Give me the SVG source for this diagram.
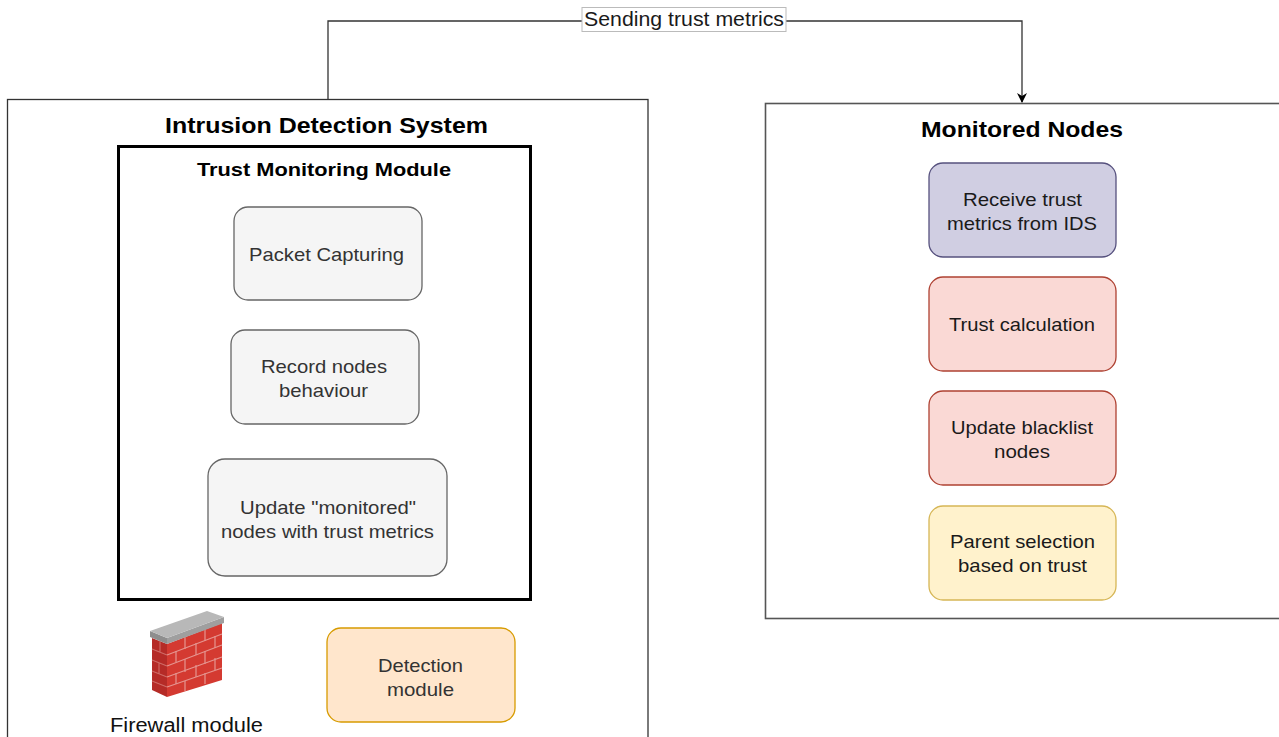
<svg xmlns="http://www.w3.org/2000/svg" width="1279" height="737" viewBox="0 0 1279 737">
<defs>
<style>
text{font-family:"Liberation Sans",Arial,sans-serif;text-anchor:middle}
.t{font-size:18.5px;fill:#333}
.d{font-size:18.5px;fill:#1a1a1a}
.tb{font-size:20px;fill:#111}
.h{font-size:22px;font-weight:bold;fill:#000}
.h2{font-size:19px;font-weight:bold;fill:#000}
.gray{fill:#f5f5f5;stroke:#666;stroke-width:1.3}
.purple{fill:#d0cee2;stroke:#56517e;stroke-width:1.3}
.red{fill:#fad9d5;stroke:#ae4132;stroke-width:1.3}
.yellow{fill:#fff2cc;stroke:#d6b656;stroke-width:1.3}
.orange{fill:#ffe6cc;stroke:#d79b00;stroke-width:1.3}
</style>
<marker id="arr" viewBox="0 0 10 10" refX="9" refY="5" markerWidth="10" markerHeight="10" markerUnits="userSpaceOnUse" orient="auto">
<path d="M0,0 L10,5 L0,10 L3,5 Z" fill="#000"/>
</marker>
</defs>

<g id="ids">
<rect x="7.5" y="99.5" width="640.5" height="700" fill="#fff" stroke="#333" stroke-width="1.3"/>
<text class="h" x="326.5" y="133" textLength="323" lengthAdjust="spacingAndGlyphs">Intrusion Detection System</text>
</g>

<g id="tmm">
<rect x="118.5" y="146.5" width="412" height="453" fill="#fff" stroke="#000" stroke-width="3"/>
<text class="h2" x="324" y="176" textLength="254" lengthAdjust="spacingAndGlyphs">Trust Monitoring Module</text>
</g>

<g id="packet">
<rect class="gray" x="234" y="207" width="188" height="93" rx="14"/>
<text class="t" x="326.5" y="261" textLength="155" lengthAdjust="spacingAndGlyphs">Packet Capturing</text>
</g>

<g id="record">
<rect class="gray" x="231" y="330" width="188" height="94" rx="14"/>
<text class="t" x="324" y="373" textLength="126" lengthAdjust="spacingAndGlyphs">Record nodes</text>
<text class="t" x="323.5" y="397" textLength="89" lengthAdjust="spacingAndGlyphs">behaviour</text>
</g>

<g id="update-monitored">
<rect class="gray" x="208" y="459" width="239" height="117" rx="17"/>
<text class="t" x="328" y="514" textLength="176" lengthAdjust="spacingAndGlyphs">Update "monitored"</text>
<text class="t" x="327.5" y="538" textLength="213" lengthAdjust="spacingAndGlyphs">nodes with trust metrics</text>
</g>

<g id="firewall">
<polygon points="152,638 167,644 167,697 152,690" fill="#b52b27"/>
<polygon points="167,644 222,623 222,680 167,697" fill="#d43a31"/>
<g fill="none" stroke="#e59590" stroke-width="1.2">
<path d="M167,655 L222,634 M167,666 L222,645 M167,677 L222,657 M167,687 L222,668"/>
<path d="M185,637 L185,649 M205,630 L205,641 M176,651 L176,662 M196,643 L196,655 M215,636 L215,648 M185,659 L185,672 M205,651 L205,664 M176,673 L176,684 M196,665 L196,677 M215,658 L215,670 M185,681 L185,691 M205,673 L205,684"/>
</g>
<g fill="none" stroke="#cf6b66" stroke-width="1.1">
<path d="M152,649 L167,655 M152,660 L167,666 M152,671 L167,677 M152,681 L167,687 M160,641 L160,652 M159,663 L159,674"/>
</g>
<polygon points="150,631 167,638 167,644 150,637" fill="#8e8e8e"/>
<polygon points="167,638 224,617 224,623 167,644" fill="#9f9f9f"/>
<polygon points="150,631 207,611 224,617 167,638" fill="#b8b8b8"/>
<text class="tb" x="186.5" y="732" textLength="153" lengthAdjust="spacingAndGlyphs">Firewall module</text>
</g>

<g id="detection">
<rect class="orange" x="327" y="628" width="188" height="94" rx="14"/>
<text class="t" x="420.5" y="672" textLength="85" lengthAdjust="spacingAndGlyphs">Detection</text>
<text class="t" x="420.5" y="696" textLength="67" lengthAdjust="spacingAndGlyphs">module</text>
</g>

<g id="monitored">
<rect x="765.5" y="103.5" width="530" height="515" fill="#fff" stroke="#555" stroke-width="1.6"/>
<text class="h" x="1022" y="137" textLength="202" lengthAdjust="spacingAndGlyphs">Monitored Nodes</text>
</g>

<g id="receive">
<rect class="purple" x="929" y="163" width="187" height="94" rx="14"/>
<text class="d" x="1022.5" y="206" textLength="119" lengthAdjust="spacingAndGlyphs">Receive trust</text>
<text class="d" x="1022" y="230" textLength="150" lengthAdjust="spacingAndGlyphs">metrics from IDS</text>
</g>

<g id="trustcalc">
<rect class="red" x="929" y="277" width="187" height="94" rx="14"/>
<text class="d" x="1022" y="331" textLength="146" lengthAdjust="spacingAndGlyphs">Trust calculation</text>
</g>

<g id="blacklist">
<rect class="red" x="929" y="391" width="187" height="94" rx="14"/>
<text class="d" x="1022" y="434" textLength="142" lengthAdjust="spacingAndGlyphs">Update blacklist</text>
<text class="d" x="1022" y="458" textLength="56" lengthAdjust="spacingAndGlyphs">nodes</text>
</g>

<g id="parent">
<rect class="yellow" x="929" y="506" width="187" height="94" rx="14"/>
<text class="d" x="1022.5" y="548" textLength="145" lengthAdjust="spacingAndGlyphs">Parent selection</text>
<text class="d" x="1022.5" y="572" textLength="129" lengthAdjust="spacingAndGlyphs">based on trust</text>
</g>

<g id="connectors">
<path d="M328,99 L328,21 L1022,21 L1022,102" fill="none" stroke="#333" stroke-width="1.3" marker-end="url(#arr)"/>
<rect x="582" y="7.5" width="204" height="24" fill="#fff" stroke="#bbb" stroke-width="1"/>
<text class="d" x="684" y="26" textLength="200" lengthAdjust="spacingAndGlyphs" style="font-size:20px">Sending trust metrics</text>
</g>
</svg>
